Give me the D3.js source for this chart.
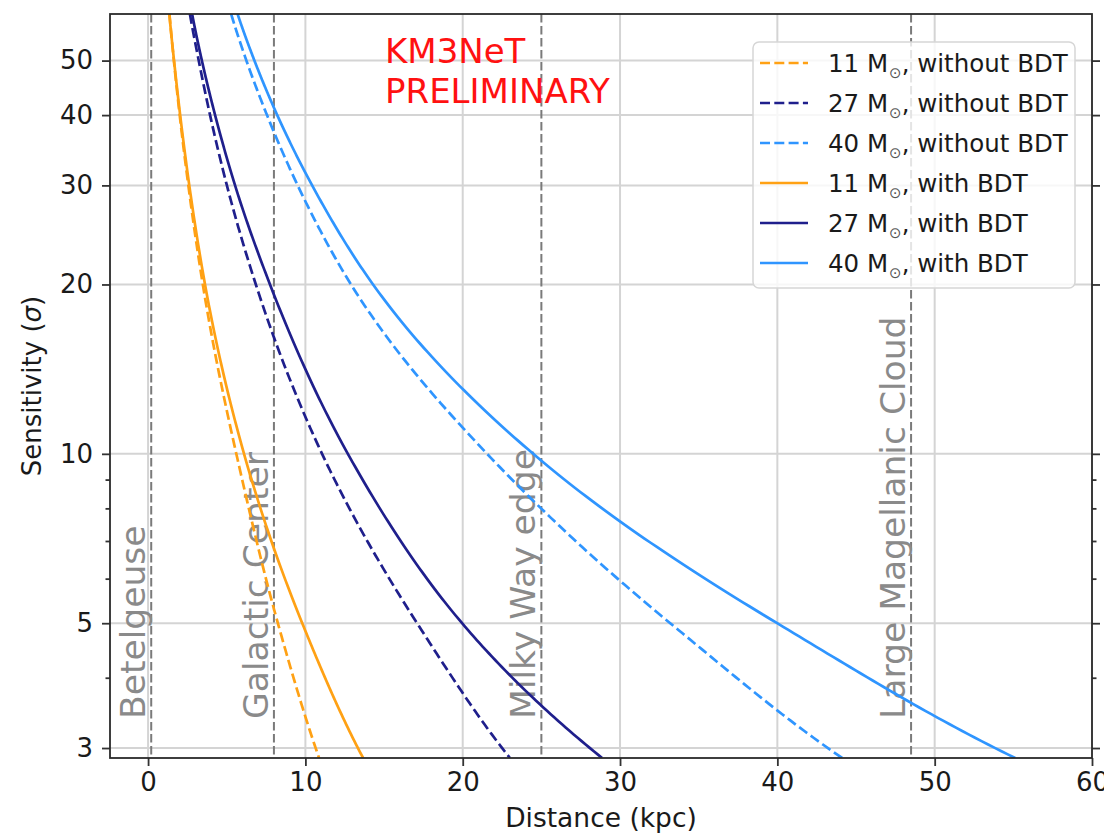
<!DOCTYPE html>
<html>
<head>
<meta charset="utf-8">
<script src="https://cdn.jsdelivr.net/npm/d3@7"></script>
<style>
  body { margin: 0; background: #fff; }
  svg { display: block; }
  text { font-family: "DejaVu Sans", sans-serif; }
</style>
</head>
<body>
<svg id="chart" width="1104" height="835"></svg>
<script>
// ---- axis settings ----
const xDomain = [-2.42, 60];
const yDomain = [2.88, 60.5];
const xTicks = [0, 10, 20, 30, 40, 50, 60];
const yTicksMajor = [3, 5, 10, 20, 30, 40, 50];
const yTicksMinor = [4, 6, 7, 8, 9];

// ---- reference distances (kpc) ----
const markerNames = ["Betelgeuse", "Galactic Center", "Milky Way edge", "Large Magellanic Cloud"];
const markerDistances = [0.2, 8, 25, 48.5];

// ---- sensitivity curves: [distance (kpc), sensitivity (sigma)] ----
const m11WithoutBDT = [[1.36,60.5],[1.64,50],[2.01,40],[2.56,30],[3.48,20],[5.61,10],[8.25,5],[10.87,2.88]];
const m27WithoutBDT = [[2.66,60.5],[3.22,50],[3.94,40],[5.01,30],[6.85,20],[11.06,10],[17.1,5],[23.0,2.88]];
const m40WithoutBDT = [[5.28,60.5],[6.25,50],[7.56,40],[9.51,30],[12.9,20],[21.55,10],[33.19,5],[44.12,2.88]];
const m11WithBDT = [[1.35,60.5],[1.65,50],[2.04,40],[2.62,30],[3.62,20],[6.1,10],[9.8,5],[13.67,2.88]];
const m27WithBDT = [[2.8,60.5],[3.42,50],[4.26,40],[5.53,30],[7.75,20],[12.7,10],[19.96,5],[28.86,2.88]];
const m40WithBDT = [[5.69,60.5],[6.76,50],[8.21,40],[10.43,30],[14.3,20],[24.48,10],[39.99,5],[55.12,2.88]];

const seriesMasses = ["11", "27", "40", "11", "27", "40"];
const seriesSuffix = ["without BDT", "without BDT", "without BDT", "with BDT", "with BDT", "with BDT"];
const seriesData = [m11WithoutBDT, m27WithoutBDT, m40WithoutBDT, m11WithBDT, m27WithBDT, m40WithBDT];

// ---- styling ----
const massColor = { "11": "#ffa114", "27": "#1f1f8c", "40": "#2f95ff" };
const dashPattern = "10,4.3";

const margin = { left: 110, top: 14, right: 12, bottom: 77 };
const W = 1104, H = 835;
const innerW = W - margin.left - margin.right;   // 982
const innerH = H - margin.top - margin.bottom;   // 744

const svg = d3.select("#chart");
const g = svg.append("g").attr("transform", `translate(${margin.left},${margin.top})`);

const x = d3.scaleLinear().domain(xDomain).range([0, innerW]);
const y = d3.scaleLog().domain(yDomain).range([innerH, 0]);

svg.append("defs").append("clipPath").attr("id", "plotClip")
  .append("rect").attr("width", innerW).attr("height", innerH);

// grid
const grid = g.append("g");
grid.selectAll("line.gx").data(xTicks).join("line")
  .attr("x1", d => x(d)).attr("x2", d => x(d)).attr("y1", 0).attr("y2", innerH)
  .attr("stroke", "#d4d4d4").attr("stroke-width", 2);
grid.selectAll("line.gy").data(yTicksMajor).join("line")
  .attr("y1", d => y(d)).attr("y2", d => y(d)).attr("x1", 0).attr("x2", innerW)
  .attr("stroke", "#d4d4d4").attr("stroke-width", 2);

// reference distance lines
const markers = markerNames.map((n, i) => ({ name: n, d: markerDistances[i] }));
g.append("g").selectAll("line").data(markers).join("line")
  .attr("x1", d => x(d.d)).attr("x2", d => x(d.d)).attr("y1", 0).attr("y2", innerH)
  .attr("stroke", "#7a7a7a").attr("stroke-width", 2).attr("stroke-dasharray", "8.5,3.5");

g.append("g").selectAll("text").data(markers).join("text")
  .attr("transform", d => `translate(${x(d.d) - 6},${y(3.38)}) rotate(-90)`)
  .attr("fill", "#8a8a8a").attr("font-size", 34.5)
  .text(d => d.name);

// Smooth path through the points: cubic Hermite in log-log space
// (ln distance as a function of ln sigma), sampled for drawing.
function smoothLogLog(pts, steps = 40) {
  const u = pts.map(p => Math.log(p[1]));
  const v = pts.map(p => Math.log(p[0]));
  const n = pts.length;
  const m = [];
  for (let k = 0; k < n - 1; k++) m.push((v[k + 1] - v[k]) / (u[k + 1] - u[k]));
  const t = v.map((_, k) => k === 0 ? m[0] : k === n - 1 ? m[n - 2] : (m[k - 1] + m[k]) / 2);
  const out = [];
  for (let k = 0; k < n - 1; k++) {
    const h = u[k + 1] - u[k];
    for (let j = 0; j < steps; j++) {
      const s = j / steps, s2 = s * s, s3 = s2 * s;
      const val = (2 * s3 - 3 * s2 + 1) * v[k] + (s3 - 2 * s2 + s) * h * t[k]
                + (-2 * s3 + 3 * s2) * v[k + 1] + (s3 - s2) * h * t[k + 1];
      out.push([Math.exp(val), Math.exp(u[k] + s * h)]);
    }
  }
  out.push(pts[n - 1]);
  return out;
}

// curves
const line = d3.line().x(d => x(d[0])).y(d => y(d[1]));
const curves = g.append("g").attr("clip-path", "url(#plotClip)");
seriesData.forEach((data, i) => {
  curves.append("path").datum(smoothLogLog(data))
    .attr("d", line)
    .attr("fill", "none")
    .attr("stroke", massColor[seriesMasses[i]])
    .attr("stroke-width", 2.7)
    .attr("stroke-dasharray", i < 3 ? dashPattern : null);
});

// axes
function styleAxis(sel) {
  sel.select(".domain").remove();
  sel.selectAll(".tick line").attr("stroke", "#333").attr("stroke-width", 1.8);
  sel.selectAll(".tick text").attr("fill", "#1a1a1a").attr("font-family", "DejaVu Sans, sans-serif");
}
const xAxis = g.append("g").attr("transform", `translate(0,${innerH})`)
  .call(d3.axisBottom(x).tickValues(xTicks).tickSize(8).tickPadding(7).tickFormat(d3.format("d")));
styleAxis(xAxis);
xAxis.selectAll(".tick text").attr("font-size", 26);

const yAxis = g.append("g")
  .call(d3.axisLeft(y).tickValues(yTicksMajor).tickSize(8).tickPadding(9).tickFormat(d3.format("d")));
styleAxis(yAxis);
yAxis.selectAll(".tick text").attr("font-size", 26);

const yMinor = g.append("g")
  .call(d3.axisLeft(y).tickValues(yTicksMinor).tickSize(4.5).tickFormat(""));
styleAxis(yMinor);

const yRight = g.append("g").attr("transform", `translate(${innerW},0)`)
  .call(d3.axisRight(y).tickValues(yTicksMajor).tickSize(8).tickFormat(""));
styleAxis(yRight);
const yRightMinor = g.append("g").attr("transform", `translate(${innerW},0)`)
  .call(d3.axisRight(y).tickValues(yTicksMinor).tickSize(4.5).tickFormat(""));
styleAxis(yRightMinor);

// frame
g.append("rect").attr("width", innerW).attr("height", innerH)
  .attr("fill", "none").attr("stroke", "#2a2a2a").attr("stroke-width", 1.8);

// axis titles
svg.append("text").attr("x", margin.left + innerW / 2).attr("y", 827)
  .attr("text-anchor", "middle").attr("font-size", 26.5).attr("fill", "#1a1a1a")
  .text("Distance (kpc)");
const yTitle = svg.append("text")
  .attr("transform", `translate(41,${margin.top + innerH / 2}) rotate(-90)`)
  .attr("text-anchor", "middle").attr("font-size", 26).attr("fill", "#1a1a1a");
yTitle.append("tspan").text("Sensitivity (");
yTitle.append("tspan").attr("font-style", "italic").text("σ");
yTitle.append("tspan").text(")");

// preliminary stamp
const stamp = svg.append("text").attr("font-size", 34).attr("fill", "#ff1111");
stamp.append("tspan").attr("x", 385).attr("y", 63).text("KM3NeT");
stamp.append("tspan").attr("x", 385).attr("y", 103).text("PRELIMINARY");

// legend
const lg = svg.append("g").attr("transform", "translate(753,42)");
lg.append("rect").attr("width", 322).attr("height", 246).attr("rx", 6)
  .attr("fill", "#fff").attr("fill-opacity", 0.8).attr("stroke", "#d6d6d6").attr("stroke-width", 1.5);
seriesData.forEach((data, i) => {
  const cy = 21 + i * 40;
  lg.append("line").attr("x1", 7).attr("x2", 55).attr("y1", cy).attr("y2", cy)
    .attr("stroke", massColor[seriesMasses[i]]).attr("stroke-width", 2.7)
    .attr("stroke-dasharray", i < 3 ? dashPattern : null);
  const t = lg.append("text").attr("x", 75).attr("y", cy + 9).attr("font-size", 24.5).attr("fill", "#1a1a1a");
  t.append("tspan").text(seriesMasses[i] + " M");
  t.append("tspan").attr("font-size", 15).attr("dy", 6).attr("dx", 1).attr("fill", "#555").text("⊙");
  t.append("tspan").attr("dy", -6).text(", " + seriesSuffix[i]);
});
</script>
</body>
</html>
